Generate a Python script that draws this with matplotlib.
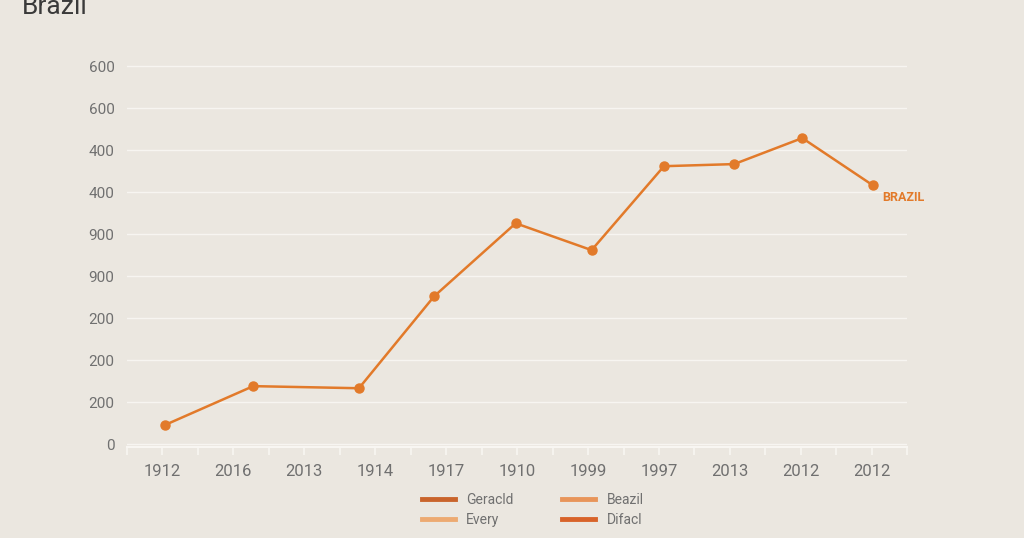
import matplotlib.pyplot as plt
import numpy as np

plt.rcParams['font.family'] = ['Roboto', 'DejaVu Sans']

# x positions are in units of the category label slots
x_labels = ['1912', '2016', '2013', '1914', '1917', '1910', '1999', '1997', '2013', '2012', '2012']
y_labels = ['0', '200', '200', '200', '900', '900', '400', '400', '600', '600']
x_vals = [0.03, 1.28, 2.77, 3.83, 4.98, 6.05, 7.07, 8.06, 9.02, 10.01]
y_vals = [0.45, 1.38, 1.33, 3.52, 5.26, 4.62, 6.62, 6.67, 7.29, 6.17]

legend_names = ['Geracld', 'Every', 'Beazil', 'Difacl']
legend_colors = ['#C9642C', '#EDAA72', '#E8955A', '#D8632A']

bg = '#EBE7E0'
line_c = '#E27A2A'
text_c = '#707070'

fig = plt.figure(figsize=(10.24, 5.38), dpi=100, facecolor=bg)
ax = fig.add_axes([0.124, 1 - 447 / 538, 0.762, (447 - 60) / 538])
ax.set_facecolor(bg)

ax.plot(x_vals, y_vals, color=line_c, lw=1.8, marker='o', ms=6.5, zorder=3)
ax.text(10.15, 6.17 - 0.3, 'BRAZIL', color=line_c, fontsize=9, fontweight='bold',
        ha='left', va='center')

ax.set_xlim(-0.46, 10.5)
ax.set_ylim(-0.07, 9.15)
ax.set_yticks(np.arange(len(y_labels)))
ax.set_yticklabels(y_labels)
ax.set_xticks(np.arange(len(x_labels)))
ax.set_xticklabels(x_labels)
ax.set_xticks(np.arange(-0.5, 10.6, 0.5), minor=True)
ax.grid(axis='y', color='#F7F5F1', lw=1.0)
ax.set_axisbelow(True)
for s in ['top', 'right', 'left']:
    ax.spines[s].set_visible(False)
ax.spines['bottom'].set_color('#F8F6F2')
ax.spines['bottom'].set_linewidth(1.5)
ax.tick_params(axis='y', length=0, pad=9, labelsize=11, labelcolor=text_c)
ax.tick_params(axis='x', which='both', length=6, color='#F8F6F2', width=1.2,
               pad=6, labelsize=12, labelcolor=text_c)

fig.text(0.021, 1 - 14 / 538, 'Brazil', fontsize=19, color='#3a3a3a',
         ha='left', va='baseline')

handles = [plt.Line2D([], [], color=c, lw=3.5) for c in legend_colors]
fig.legend(handles, legend_names, loc='center', bbox_to_anchor=(0.52, 0.052), ncol=2,
           frameon=False, fontsize=10, labelcolor=text_c, handlelength=2.4,
           columnspacing=3.5, labelspacing=0.4)

plt.savefig('out.png', dpi=100, facecolor=bg)
